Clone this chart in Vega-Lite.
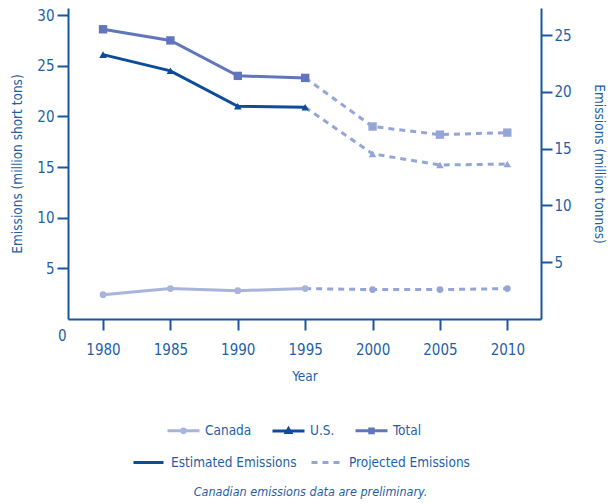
{
  "$schema": "https://vega.github.io/schema/vega-lite/v6.json",
  "width": 473,
  "height": 311,
  "autosize": "none",
  "padding": {"left": 68, "top": 8, "right": 70, "bottom": 185},
  "title": {"text": "Canadian emissions data are preliminary.", "orient": "bottom", "anchor": "middle", "fontSize": 12.5, "fontStyle": "italic", "fontWeight": "normal", "color": "#1f5fa8", "font": "DejaVu Sans Condensed, Roboto, sans-serif", "offset": 17, "dx": 6},
  "config": {
    "font": "DejaVu Sans Condensed, Roboto, sans-serif",
    "view": {"stroke": null},
    "axis": {"domainColor": "#1a56a0", "domainWidth": 2, "tickColor": "#1a56a0", "tickWidth": 2, "tickSize": 11, "labelColor": "#1f5fa8", "titleColor": "#1f5fa8", "labelFont": "DejaVu Sans Condensed, Roboto, sans-serif", "titleFont": "DejaVu Sans Condensed, Roboto, sans-serif", "labelFontSize": 15, "titleFontSize": 13.5, "titleFontWeight": "normal", "grid": false},
    "legend": {"labelColor": "#1f5fa8", "labelFont": "DejaVu Sans Condensed, Roboto, sans-serif", "labelFontSize": 13.5, "title": null, "padding": 0}
  },
  "datasets": {
    "emissions": [
      {"year": 1980, "series": "Canada", "value": 2.4, "status": "Estimated Emissions"},
      {"year": 1985, "series": "Canada", "value": 3.0, "status": "Estimated Emissions"},
      {"year": 1990, "series": "Canada", "value": 2.8, "status": "Estimated Emissions"},
      {"year": 1995, "series": "Canada", "value": 3.0, "status": "Estimated Emissions"},
      {"year": 2000, "series": "Canada", "value": 2.9, "status": "Projected Emissions"},
      {"year": 2005, "series": "Canada", "value": 2.9, "status": "Projected Emissions"},
      {"year": 2010, "series": "Canada", "value": 3.0, "status": "Projected Emissions"},
      {"year": 1980, "series": "U.S.", "value": 26.1, "status": "Estimated Emissions"},
      {"year": 1985, "series": "U.S.", "value": 24.5, "status": "Estimated Emissions"},
      {"year": 1990, "series": "U.S.", "value": 21.0, "status": "Estimated Emissions"},
      {"year": 1995, "series": "U.S.", "value": 20.9, "status": "Estimated Emissions"},
      {"year": 2000, "series": "U.S.", "value": 16.3, "status": "Projected Emissions"},
      {"year": 2005, "series": "U.S.", "value": 15.2, "status": "Projected Emissions"},
      {"year": 2010, "series": "U.S.", "value": 15.3, "status": "Projected Emissions"},
      {"year": 1980, "series": "Total", "value": 28.6, "status": "Estimated Emissions"},
      {"year": 1985, "series": "Total", "value": 27.5, "status": "Estimated Emissions"},
      {"year": 1990, "series": "Total", "value": 24.0, "status": "Estimated Emissions"},
      {"year": 1995, "series": "Total", "value": 23.8, "status": "Estimated Emissions"},
      {"year": 2000, "series": "Total", "value": 19.0, "status": "Projected Emissions"},
      {"year": 2005, "series": "Total", "value": 18.2, "status": "Projected Emissions"},
      {"year": 2010, "series": "Total", "value": 18.4, "status": "Projected Emissions"}
    ]
  },
  "layer": [
    {
      "data": {"name": "emissions"},
      "resolve": {"scale": {"color": "independent", "shape": "independent", "strokeDash": "independent", "stroke": "independent"}},
      "layer": [
        {
          "transform": [{"filter": "datum.year <= 1995"}],
          "mark": {"type": "line", "strokeWidth": 3},
          "encoding": {
            "x": {"field": "year", "type": "quantitative", "scale": {"domain": [1977.4, 2012.5], "nice": false, "zero": false}, "axis": {"values": [1980, 1985, 1990, 1995, 2000, 2005, 2010], "format": "d", "title": "Year", "labelPadding": 12, "titlePadding": 12}},
            "y": {"field": "value", "type": "quantitative", "scale": {"domain": [0, 30.7], "nice": false}, "axis": {"orient": "left", "values": [0, 5, 10, 15, 20, 25, 30], "title": "Emissions (million short tons)", "titlePadding": 12, "labelPadding": {"condition": {"test": "datum.value === 0", "value": -9}, "value": 3}, "labelOffset": {"condition": {"test": "datum.value === 0", "value": 16}, "value": 0}, "tickOpacity": {"condition": {"test": "datum.value === 0", "value": 0}, "value": 1}}},
            "color": {"field": "series", "type": "nominal", "scale": {"domain": ["Canada", "U.S.", "Total"], "range": ["#a9b4dc", "#0d4c99", "#6176ba"]}, "legend": null}
          }
        },
        {
          "transform": [{"filter": "datum.year >= 1995"}],
          "mark": {"type": "line", "strokeWidth": 3, "strokeDash": [6, 5], "color": "#95a5d6"},
          "encoding": {
            "x": {"field": "year", "type": "quantitative", "scale": {"domain": [1977.4, 2012.5], "nice": false, "zero": false}, "title": "Year"},
            "y": {"field": "value", "type": "quantitative", "scale": {"domain": [0, 30.7], "nice": false}, "title": "Emissions (million short tons)"},
            "detail": {"field": "series", "type": "nominal"}
          }
        },
        {
          "transform": [{"filter": "datum.year <= 1995"}],
          "mark": {"type": "point", "filled": true, "opacity": 1},
          "encoding": {
            "x": {"field": "year", "type": "quantitative", "scale": {"domain": [1977.4, 2012.5], "nice": false, "zero": false}, "title": "Year"},
            "y": {"field": "value", "type": "quantitative", "scale": {"domain": [0, 30.7], "nice": false}, "title": "Emissions (million short tons)"},
            "color": {"field": "series", "type": "nominal", "scale": {"domain": ["Canada", "U.S.", "Total"], "range": ["#a9b4dc", "#0d4c99", "#6176ba"]}, "legend": null},
            "shape": {"field": "series", "type": "nominal", "scale": {"domain": ["Canada", "U.S.", "Total"], "range": ["circle", "triangle-up", "square"]}, "legend": null},
            "size": {"field": "series", "type": "nominal", "scale": {"domain": ["Canada", "U.S.", "Total"], "range": [45, 70, 64]}, "legend": null}
          }
        },
        {
          "transform": [{"filter": "datum.year >= 2000"}],
          "mark": {"type": "point", "filled": true, "opacity": 1, "color": "#95a5d6"},
          "encoding": {
            "x": {"field": "year", "type": "quantitative", "scale": {"domain": [1977.4, 2012.5], "nice": false, "zero": false}, "title": "Year"},
            "y": {"field": "value", "type": "quantitative", "scale": {"domain": [0, 30.7], "nice": false}, "title": "Emissions (million short tons)"},
            "shape": {"field": "series", "type": "nominal", "scale": {"domain": ["Canada", "U.S.", "Total"], "range": ["circle", "triangle-up", "square"]}, "legend": null},
            "size": {"field": "series", "type": "nominal", "scale": {"domain": ["Canada", "U.S.", "Total"], "range": [45, 70, 64]}, "legend": null}
          }
        },
        {
          "transform": [{"filter": "false"}],
          "mark": {"type": "point", "filled": true, "opacity": 1, "strokeWidth": 3},
          "encoding": {
            "x": {"field": "year", "type": "quantitative", "scale": {"domain": [1977.4, 2012.5], "nice": false, "zero": false}, "title": "Year"},
            "y": {"field": "value", "type": "quantitative", "scale": {"domain": [0, 30.7], "nice": false}, "title": "Emissions (million short tons)"},
            "color": {"field": "series", "type": "nominal", "scale": {"domain": ["Canada", "U.S.", "Total"], "range": ["#a9b4dc", "#0d4c99", "#6176ba"]}, "legend": {"title": null, "orient": "none", "direction": "horizontal", "legendX": 106, "legendY": 413, "symbolSize": 256, "symbolStrokeWidth": 3, "labelOffset": 12, "columnPadding": 14}},
            "stroke": {"field": "series", "type": "nominal", "scale": {"domain": ["Canada", "U.S.", "Total"], "range": ["#a9b4dc", "#0d4c99", "#6176ba"]}, "legend": {"title": null, "orient": "none", "direction": "horizontal", "legendX": 106, "legendY": 413, "symbolSize": 256, "symbolStrokeWidth": 3, "labelOffset": 12, "columnPadding": 14}},
            "shape": {"field": "series", "type": "nominal", "scale": {"domain": ["Canada", "U.S.", "Total"], "range": ["M-2,0H2M0.22,0A0.22,0.22,0,1,1,-0.22,0A0.22,0.22,0,1,1,0.22,0Z", "M-2,0H2M0,-0.28L0.28,0.2L-0.28,0.2Z", "M-2,0H2M-0.22,-0.22H0.22V0.22H-0.22Z"]}, "legend": {"title": null, "orient": "none", "direction": "horizontal", "legendX": 106, "legendY": 413, "symbolSize": 256, "symbolStrokeWidth": 3, "labelOffset": 12, "columnPadding": 14}}
          }
        },
        {
          "transform": [{"filter": "false"}],
          "mark": {"type": "line", "strokeWidth": 3},
          "encoding": {
            "x": {"field": "year", "type": "quantitative", "scale": {"domain": [1977.4, 2012.5], "nice": false, "zero": false}, "title": "Year"},
            "y": {"field": "value", "type": "quantitative", "scale": {"domain": [0, 30.7], "nice": false}, "title": "Emissions (million short tons)"},
            "color": {"field": "status", "type": "nominal", "scale": {"domain": ["Estimated Emissions", "Projected Emissions"], "range": ["#0d4c99", "#95a5d6"]}, "legend": {"title": null, "orient": "none", "direction": "horizontal", "legendX": 64, "legendY": 438, "symbolSize": 900, "symbolStrokeWidth": 3, "labelOffset": 6, "columnPadding": 8}},
            "strokeDash": {"field": "status", "type": "nominal", "scale": {"domain": ["Estimated Emissions", "Projected Emissions"], "range": [[1, 0], [6, 5]]}, "legend": {"title": null, "orient": "none", "direction": "horizontal", "legendX": 64, "legendY": 438, "symbolSize": 900, "symbolStrokeWidth": 3, "labelOffset": 6, "columnPadding": 8}}
          }
        }
      ]
    },
    {
      "data": {"name": "emissions"},
      "transform": [{"filter": "false"}],
      "mark": "point",
      "encoding": {
        "x": {"field": "year", "type": "quantitative", "scale": {"domain": [1977.4, 2012.5], "nice": false, "zero": false}, "title": "Year"},
        "y": {"field": "value", "type": "quantitative", "scale": {"domain": [0, 27.4], "nice": false}, "axis": {"orient": "right", "values": [5, 10, 15, 20, 25], "title": "Emissions (million tonnes)", "titlePadding": 20}}
      }
    }
  ],
  "resolve": {"scale": {"y": "independent"}, "axis": {"y": "independent"}}
}
